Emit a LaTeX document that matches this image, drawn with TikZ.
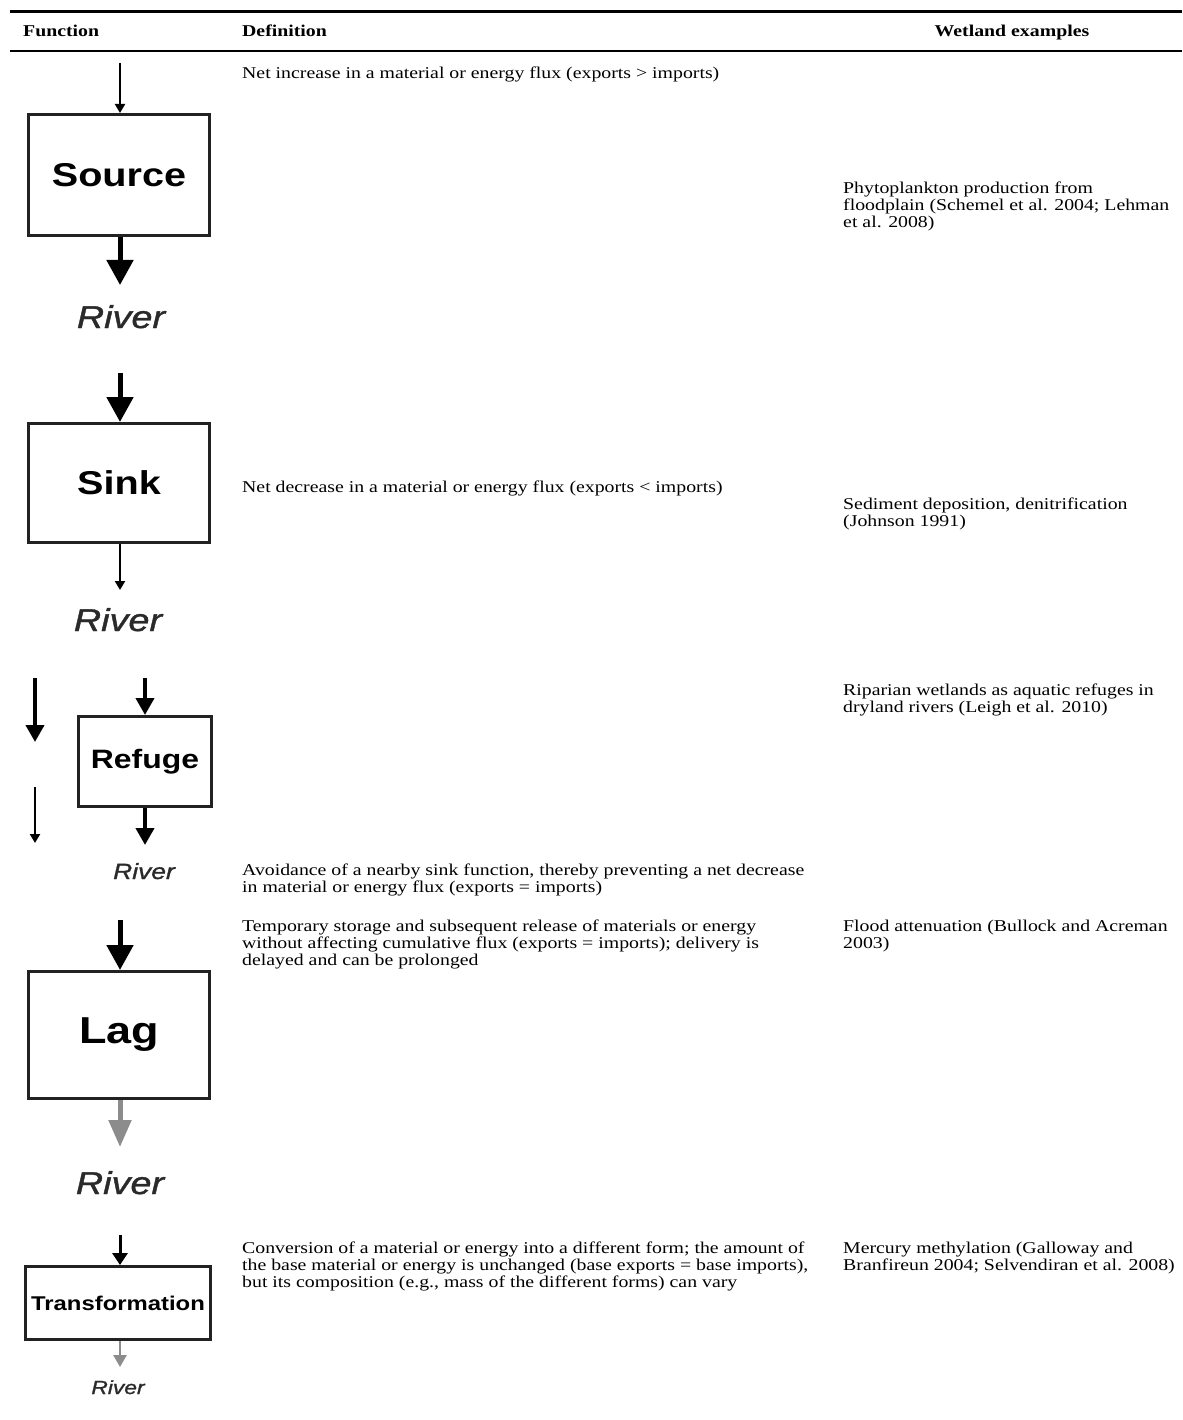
\documentclass[tikz,border=0pt]{standalone}
\usepackage{fontspec}
\setmainfont{Liberation Serif}[FakeStretch=1.2]
\newfontfamily\boxfont{Liberation Sans}[FakeStretch=1.2]
\newfontfamily\riverfont{Liberation Sans}[FakeStretch=1.2,FakeBold=1.2]
\usepackage{tikz}
\usetikzlibrary{positioning,arrows.meta}
\definecolor{flowgrey}{HTML}{8C8C8C}
\definecolor{boxblack}{HTML}{222222}
\definecolor{rivergrey}{HTML}{2A2A2A}

\begin{document}
\begin{tikzpicture}[x=1pt,y=-1pt,
    fnbox/.style={draw=boxblack,line width=3pt,inner sep=0pt,font=\boxfont\bfseries},
    rivlab/.style={anchor=base,inner sep=0pt,text=rivergrey,font=\riverfont\itshape},
    thinflow/.style={line width=2pt,-{Triangle[width=10pt,length=9pt]}},
    thickflow/.style={line width=5pt,-{Triangle[width=26pt,length=25pt]}},
    midflow/.style={line width=4pt,-{Triangle[width=18pt,length=17pt]}},
    coltext/.style={anchor=north west,inner sep=0pt,align=left,font=\fontsize{16.5}{16.7}\selectfont},
    colhead/.style={anchor=base west,inner sep=0pt,font=\fontsize{16.5}{16.7}\selectfont\bfseries}]
  \useasboundingbox (0,0) rectangle (1182,1420);

  % rules and column heads
  \draw[line width=3pt] (10,11.5) -- (1182,11.5);
  \draw[line width=2.5pt] (10,51) -- (1182,51);
  \node[colhead] (hfun) at (23,37) {Function};
  \node[colhead] (hdef) at (242,37) {Definition};
  \node[colhead,anchor=base] (hex) at (1012,37) {Wetland examples};

  % definitions and examples
  \foreach \ty/\txt [count=\i] in {
      67/{Net increase in a material or energy flux (exports > imports)},
      481/{Net decrease in a material or energy flux (exports < imports)},
      864/{Avoidance of a nearby sink function, thereby preventing a net decrease\\in material or energy flux (exports = imports)},
      920/{Temporary storage and subsequent release of materials or energy\\without affecting cumulative flux (exports = imports); delivery is\\delayed and can be prolonged},
      1242/{Conversion of a material or energy into a different form; the amount of\\the base material or energy is unchanged (base exports = base imports),\\but its composition (e.g., mass of the different forms) can vary}} {
    \node[coltext] (def\i) at (242,\ty) {\txt};
  }
  \foreach \ty/\txt [count=\i] in {
      182/{Phytoplankton production from\\floodplain (Schemel et al. 2004; Lehman\\et al. 2008)},
      498/{Sediment deposition, denitrification\\(Johnson 1991)},
      684/{Riparian wetlands as aquatic refuges in\\dryland rivers (Leigh et al. 2010)},
      920/{Flood attenuation (Bullock and Acreman\\2003)},
      1242/{Mercury methylation (Galloway and\\Branfireun 2004; Selvendiran et al. 2008)}} {
    \node[coltext] (ex\i) at (843,\ty) {\txt};
  }

  % source
  \node[fnbox,minimum width=181pt,minimum height=121pt,font=\boxfont\bfseries\fontsize{33}{36}\selectfont] (src) at (119,175) {Source};
  \coordinate (srcin) at (120,63);
  \coordinate (srcout) at (120,285);
  \draw[thinflow] (srcin) -- (src.north -| srcin);
  \draw[thickflow] (src.south -| srcout) -- (srcout);
  \node[rivlab,font=\riverfont\itshape\fontsize{31.5}{34}\selectfont] (srcriv) at (121,328) {River};

  % sink
  \node[fnbox,minimum width=181pt,minimum height=119pt,font=\boxfont\bfseries\fontsize{33}{36}\selectfont] (snk) at (119,483) {Sink};
  \coordinate (snkin) at (120,373);
  \coordinate (snkout) at (120,590);
  \draw[thickflow] (snkin) -- (snk.north -| snkin);
  \draw[thinflow] (snk.south -| snkout) -- (snkout);
  \node[rivlab,font=\riverfont\itshape\fontsize{31.5}{34}\selectfont] (snkriv) at (118,631) {River};

  % refuge, with the river passing by on the left
  \node[fnbox,minimum width=133pt,minimum height=90pt,font=\boxfont\bfseries\fontsize{26.6}{30}\selectfont] (ref) at (145,761.5) {Refuge};
  \coordinate (refin) at (145,678);
  \coordinate (refout) at (145,845);
  \draw[midflow] (refin) -- (ref);
  \draw[midflow] (ref) -- (refout);
  \coordinate (byatop) at (35,678);
  \coordinate (byabot) at (35,742);
  \coordinate (bybtop) at (35,787);
  \coordinate (bybbot) at (35,843);
  \draw[midflow] (byatop) -- (byabot);
  \draw[thinflow] (bybtop) -- (bybbot);
  \node[rivlab,font=\riverfont\itshape\fontsize{22}{25}\selectfont] (refriv) at (144,879) {River};

  % lag
  \node[fnbox,minimum width=181pt,minimum height=127pt,font=\boxfont\bfseries\fontsize{37.5}{40}\selectfont] (lag) at (119,1035) {Lag};
  \coordinate (lagin) at (120,920);
  \coordinate (lagout) at (120,1147);
  \draw[thickflow] (lagin) -- (lag.north -| lagin);
  \draw[line width=5pt,flowgrey,-{Triangle[width=22pt,length=27pt]}] (lag.south -| lagout) -- (lagout);
  \node[rivlab,font=\riverfont\itshape\fontsize{31.5}{34}\selectfont] (lagriv) at (120,1194) {River};

  % transformation
  \node[fnbox,minimum width=185pt,minimum height=73pt,font=\boxfont\bfseries\fontsize{19.9}{22}\selectfont] (trf) at (118,1303) {Transformation};
  \coordinate (trfin) at (120,1235);
  \coordinate (trfout) at (120,1367);
  \draw[line width=3pt,-{Triangle[width=15pt,length=12pt]}] (trfin) -- (trf.north -| trfin);
  \draw[line width=2.5pt,flowgrey,-{Triangle[width=13pt,length=12pt]}] (trf.south -| trfout) -- (trfout);
  \node[rivlab,font=\riverfont\itshape\fontsize{19}{21}\selectfont] (trfriv) at (118,1394) {River};
\end{tikzpicture}
\end{document}
